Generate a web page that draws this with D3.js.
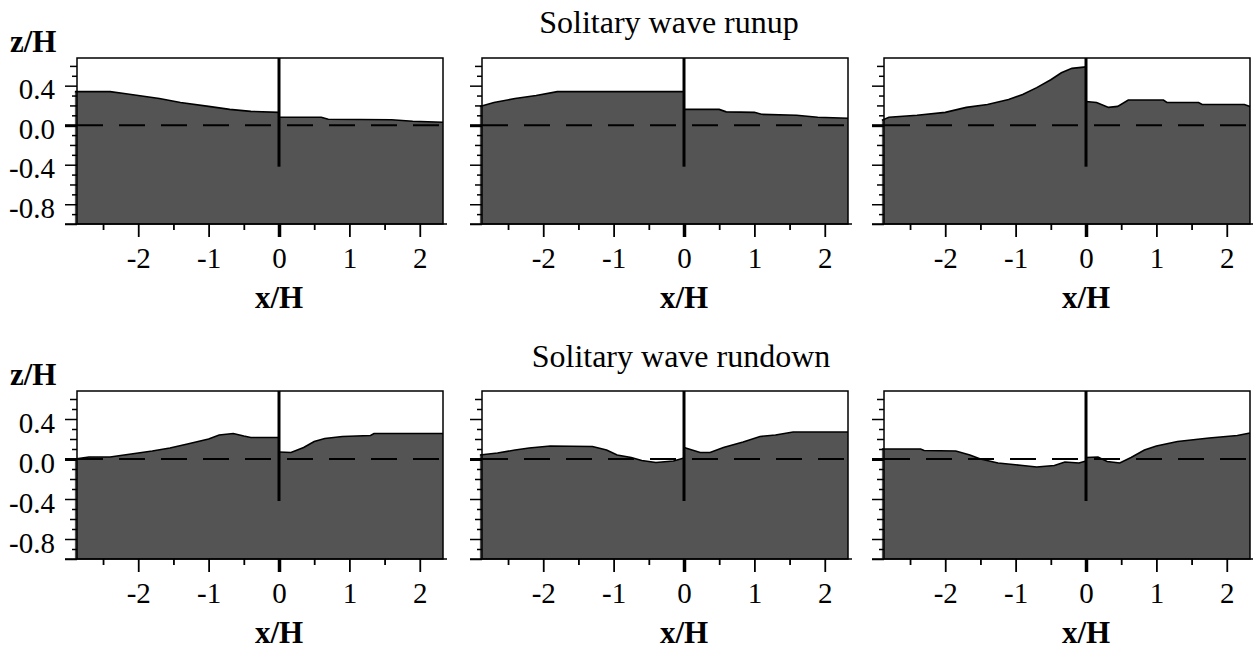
<!DOCTYPE html>
<html>
<head>
<meta charset="utf-8">
<script src="https://cdnjs.cloudflare.com/ajax/libs/d3/7.8.5/d3.min.js"></script>
<style>
    body { margin: 0; background: #fff; }
    svg text { font-family: "Liberation Serif", "Times New Roman", serif; fill: #000; }
</style>
</head>
<body>
<div id="chart"></div>
<script>
const titles = ["Solitary wave runup", "Solitary wave rundown"];
const xLabel = "x/H";
const yLabel = "z/H";

const xDomain = [-2.87, 2.33];
const yDomain = [-1.0, 0.68];
const wallBottom = -0.42;

// tick positions (labels only on the integer / 0.4 ones)
const xTicks = d3.range(-5, 5).map(i => i / 2);
const yTicks = d3.range(-10, 7).map(i => i / 10);

// free surface z/H against x/H, seaward of the wall (x<0) and behind it (x>0)
const runup1Left = [[-2.9, 0.34], [-2.4, 0.34], [-2.2, 0.32], [-2.0, 0.30], [-1.7, 0.27], [-1.4, 0.23],
    [-1.0, 0.19], [-0.7, 0.16], [-0.4, 0.14], [0, 0.13]];
const runup1Right = [[0, 0.08], [0.6, 0.08], [0.7, 0.06], [1.6, 0.055], [1.9, 0.04], [2.33, 0.03]];

const runup2Left = [[-2.9, 0.19], [-2.7, 0.23], [-2.4, 0.27], [-2.1, 0.30], [-1.8, 0.34], [0, 0.34]];
const runup2Right = [[0, 0.16], [0.5, 0.16], [0.6, 0.135], [1.0, 0.13], [1.1, 0.11], [1.6, 0.10],
    [1.9, 0.08], [2.33, 0.07]];

const runup3Left = [[-2.9, 0.05], [-2.8, 0.08], [-2.4, 0.10], [-2.0, 0.13], [-1.7, 0.18], [-1.4, 0.21],
    [-1.1, 0.26], [-0.9, 0.31], [-0.7, 0.38], [-0.5, 0.46], [-0.35, 0.53], [-0.2, 0.575], [0, 0.59]];
const runup3Right = [[0, 0.24], [0.15, 0.23], [0.32, 0.18], [0.45, 0.19], [0.6, 0.255], [1.1, 0.255],
    [1.15, 0.23], [1.6, 0.23], [1.65, 0.21], [2.25, 0.21], [2.33, 0.19]];

const rundown1Left = [[-2.9, 0.0], [-2.7, 0.02], [-2.4, 0.02], [-2.1, 0.05], [-1.8, 0.08], [-1.55, 0.11],
    [-1.3, 0.15], [-1.0, 0.2], [-0.85, 0.24], [-0.65, 0.255], [-0.5, 0.23], [-0.4, 0.215], [0, 0.215]];
const rundown1Right = [[0, 0.07], [0.17, 0.065], [0.35, 0.115], [0.5, 0.175], [0.65, 0.205], [0.9, 0.225],
    [1.3, 0.235], [1.35, 0.255], [2.33, 0.255]];

const rundown2Left = [[-2.9, 0.04], [-2.65, 0.06], [-2.4, 0.09], [-2.2, 0.11], [-1.9, 0.13], [-1.3, 0.125],
    [-1.1, 0.09], [-0.95, 0.04], [-0.75, 0.015], [-0.6, -0.015], [-0.4, -0.035], [-0.15, -0.02], [0, 0.01]];
const rundown2Right = [[0, 0.115], [0.23, 0.065], [0.37, 0.065], [0.56, 0.115], [0.84, 0.17], [1.08, 0.225],
    [1.3, 0.24], [1.55, 0.27], [2.33, 0.27]];

const rundown3Left = [[-2.9, 0.10], [-2.35, 0.10], [-2.3, 0.085], [-1.85, 0.08], [-1.65, 0.04], [-1.5, 0.0],
    [-1.25, -0.04], [-0.9, -0.065], [-0.7, -0.08], [-0.45, -0.065], [-0.3, -0.03], [-0.1, -0.04], [0, -0.02]];
const rundown3Right = [[0, 0.015], [0.17, 0.02], [0.3, -0.025], [0.48, -0.04], [0.64, 0.015], [0.83, 0.09],
    [1.0, 0.13], [1.3, 0.175], [1.75, 0.21], [2.15, 0.235], [2.33, 0.26]];


class WavePanel {

    constructor(svg, row, col, left, right) {
        this.svg = svg;
        this.row = row;
        this.col = col;
        this.left = left;
        this.right = right;
        this.initVis();
    }

    initVis() {
        let vis = this;

        vis.colX = [77, 482, 884];
        vis.rowY = [58, 391];
        vis.rowH = [166, 168];
        vis.width = 366;
        vis.height = vis.rowH[vis.row];

        vis.g = vis.svg.append("g")
            .attr("transform", "translate(" + vis.colX[vis.col] + "," + vis.rowY[vis.row] + ")");

        vis.x = d3.scaleLinear().domain(xDomain).range([0, vis.width]);
        vis.y = d3.scaleLinear().domain(yDomain).range([vis.height, 0]);

        vis.updateVis();
    }

    updateVis() {
        let vis = this;

        vis.g.append("rect")
            .attr("width", vis.width)
            .attr("height", vis.height)
            .attr("fill", "#fff");

        let area = d3.area()
            .x(d => vis.x(d[0]))
            .y0(vis.height)
            .y1(d => vis.y(d[1]));

        let line = d3.line()
            .x(d => vis.x(d[0]))
            .y(d => vis.y(d[1]));

        [vis.left, vis.right].forEach(side => {
            vis.g.append("path")
                .datum(side)
                .attr("d", area)
                .attr("fill", "#545454");
            vis.g.append("path")
                .datum(side)
                .attr("d", line)
                .attr("fill", "none")
                .attr("stroke", "#000")
                .attr("stroke-width", 1.6);
        });

        // still water level
        vis.g.append("line")
            .attr("x1", 0)
            .attr("x2", vis.width)
            .attr("y1", vis.y(0))
            .attr("y2", vis.y(0))
            .attr("stroke", "#000")
            .attr("stroke-width", 2)
            .attr("stroke-dasharray", "26,16");

        // the wall
        vis.g.append("line")
            .attr("x1", vis.x(0))
            .attr("x2", vis.x(0))
            .attr("y1", 0)
            .attr("y2", vis.y(wallBottom))
            .attr("stroke", "#000")
            .attr("stroke-width", 3);

        vis.g.append("rect")
            .attr("width", vis.width)
            .attr("height", vis.height)
            .attr("fill", "none")
            .attr("stroke", "#000")
            .attr("stroke-width", 1.5);

        vis.g.append("line")
            .attr("x1", -12)
            .attr("x2", vis.width + 4)
            .attr("y1", vis.height)
            .attr("y2", vis.height)
            .attr("stroke", "#000")
            .attr("stroke-width", 1.5);

        // y axis
        let tenths = d => Math.round(d * 10);
        let yAxis = vis.g.append("g")
            .call(d3.axisLeft(vis.y)
                .tickValues(yTicks)
                .tickSize(6)
                .tickFormat(d => (vis.col === 0 && tenths(d) % 4 === 0) ? d.toFixed(1) : ""));
        yAxis.select(".domain").remove();
        yAxis.selectAll(".tick line")
            .attr("x2", d => tenths(d) % 4 === 0 || tenths(d) === -10 ? -12 : (tenths(d) % 2 === 0 ? -7 : -5))
            .attr("stroke-width", d => tenths(d) === 0 ? 3 : 1.5);
        yAxis.selectAll(".tick text")
            .attr("x", -22)
            .attr("dy", "0.45em")
            .style("font-size", "29px");

        // x axis
        let xAxis = vis.g.append("g")
            .attr("transform", "translate(0," + vis.height + ")")
            .call(d3.axisBottom(vis.x)
                .tickValues(xTicks)
                .tickSize(6)
                .tickFormat(d => Number.isInteger(d) ? String(d) : ""));
        xAxis.select(".domain").remove();
        xAxis.selectAll(".tick line")
            .attr("y2", d => Number.isInteger(d) ? 13 : 6)
            .attr("stroke-width", d => d === 0 ? 3.5 : 1.8);
        xAxis.selectAll(".tick text")
            .attr("y", 44)
            .attr("dy", 0)
            .style("font-size", "29px");

        vis.g.append("text")
            .attr("x", vis.x(0))
            .attr("y", vis.height + 84)
            .attr("text-anchor", "middle")
            .style("font-size", "31px")
            .style("font-weight", "bold")
            .text(xLabel);

        if (vis.col === 0) {
            vis.g.append("text")
                .attr("x", -67)
                .attr("y", -6)
                .style("font-size", "31px")
                .style("font-weight", "bold")
                .text(yLabel);
        }
    }
}

let svg = d3.select("#chart").append("svg")
    .attr("width", 1253)
    .attr("height", 651);

svg.append("text")
    .attr("x", 669)
    .attr("y", 33)
    .attr("text-anchor", "middle")
    .style("font-size", "32px")
    .text(titles[0]);

svg.append("text")
    .attr("x", 681)
    .attr("y", 367)
    .attr("text-anchor", "middle")
    .style("font-size", "32px")
    .text(titles[1]);

new WavePanel(svg, 0, 0, runup1Left, runup1Right);
new WavePanel(svg, 0, 1, runup2Left, runup2Right);
new WavePanel(svg, 0, 2, runup3Left, runup3Right);
new WavePanel(svg, 1, 0, rundown1Left, rundown1Right);
new WavePanel(svg, 1, 1, rundown2Left, rundown2Right);
new WavePanel(svg, 1, 2, rundown3Left, rundown3Right);
</script>
</body>
</html>
